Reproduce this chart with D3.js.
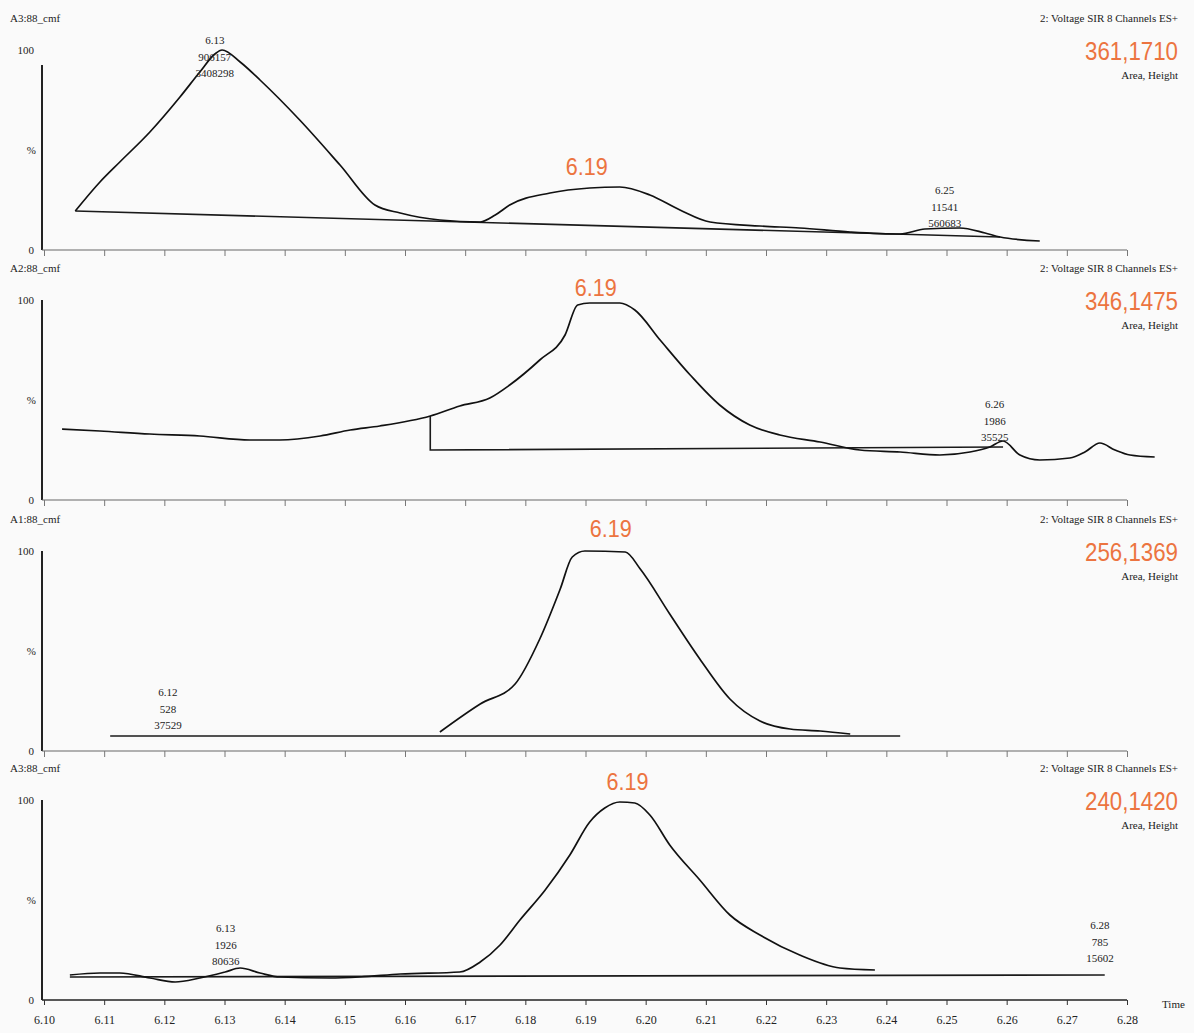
<!DOCTYPE html>
<html>
<head>
<meta charset="utf-8">
<script src="https://cdn.jsdelivr.net/npm/d3@7"></script>
<style>
  html, body { margin: 0; padding: 0; background: #fafafa; }
  svg { display: block; }
  .small { font-family: "Liberation Serif", "DejaVu Serif", serif; font-size: 11px; fill: #222; }
  .tick text { font-family: "Liberation Serif", serif; font-size: 12px; fill: #222; }
</style>
</head>
<body>
<svg id="chart" width="1194" height="1033"></svg>
<script>
// Retention-time axis (minutes)
const timeTicks = [6.10, 6.11, 6.12, 6.13, 6.14, 6.15, 6.16, 6.17, 6.18, 6.19,
                   6.20, 6.21, 6.22, 6.23, 6.24, 6.25, 6.26, 6.27, 6.28];

// Four SIR channels, relative intensity (%) vs time
const sampleNames = ["A3:88_cmf", "A2:88_cmf", "A1:88_cmf", "A3:88_cmf"];
const channelNames = ["2: Voltage SIR 8 Channels ES+", "2: Voltage SIR 8 Channels ES+",
                      "2: Voltage SIR 8 Channels ES+", "2: Voltage SIR 8 Channels ES+"];
const areaHeight = ["361,1710", "346,1475", "256,1369", "240,1420"];

const trace1T = [6.1052, 6.1093, 6.1126, 6.1176, 6.1226, 6.1259, 6.1284, 6.1296, 6.1326, 6.1359,
                 6.1425, 6.1492, 6.1550, 6.1592, 6.1658, 6.1725, 6.1750, 6.1774, 6.1841, 6.1907,
                 6.1957, 6.2007, 6.2057, 6.2107, 6.2190, 6.2256, 6.2340, 6.2423, 6.2464, 6.2522,
                 6.2564, 6.2589, 6.2655];
const trace1V = [19.5, 34, 44, 59, 76.5, 89, 98, 100, 94, 85,
                 65, 42.5, 22.5, 18.5, 15, 14, 17.5, 22.5, 28.5, 31,
                 31.5, 27.5, 20, 14, 12, 11, 9, 8, 10.5, 11,
                 8.5, 6.5, 4.5];

const trace2T = [6.1030, 6.1093, 6.1176, 6.1259, 6.1342, 6.1392, 6.1459, 6.1509, 6.1558, 6.1642,
                 6.1691, 6.1741, 6.1774, 6.1824, 6.1866, 6.1887, 6.1907, 6.1957, 6.1982, 6.2024,
                 6.2074, 6.2123, 6.2173, 6.2223, 6.2290, 6.2356, 6.2423, 6.2489, 6.2539, 6.2572,
                 6.2594, 6.2622, 6.2655, 6.2705, 6.2730, 6.2755, 6.2780, 6.2805, 6.2846];
const trace2V = [35.5, 34.5, 33, 32, 30, 30, 32, 35, 37, 42,
                 47, 51, 57.5, 70, 82.5, 97.5, 98.5, 98.5, 95, 80,
                 62.5, 47.5, 37.5, 32.5, 29, 25, 24, 22.5, 24, 26.5,
                 29.5, 22.5, 20, 21, 24, 28.5, 25, 22.5, 21.5];

const trace3T = [6.1658, 6.1725, 6.1783, 6.1824, 6.1858, 6.1878, 6.1899, 6.1966, 6.1991, 6.2040,
                 6.2090, 6.2140, 6.2190, 6.2240, 6.2290, 6.2340];
const trace3V = [9.5, 23.5, 33.5, 56, 81, 97, 100, 99.5, 91, 68.5,
                 46, 26, 15, 11, 10, 8.5];

const trace4T = [6.1043, 6.1093, 6.1126, 6.1176, 6.1218, 6.1259, 6.1301, 6.1326, 6.1359, 6.1392,
                 6.1475, 6.1525, 6.1592, 6.1691, 6.1725, 6.1758, 6.1791, 6.1833, 6.1874, 6.1907,
                 6.1932, 6.1957, 6.1982, 6.2007, 6.2040, 6.2090, 6.2140, 6.2190, 6.2256, 6.2323,
                 6.2381];
const trace4V = [12.5, 13.5, 13.5, 11, 9, 11, 14, 16, 13.5, 11.5,
                 11, 11.5, 13, 14, 19, 27.5, 40, 55, 72.5, 89,
                 96, 99, 98.5, 92.5, 77.5, 60, 42.5, 32.5, 22.5, 16,
                 15];

// Integration baselines: [time, %] pairs per channel
const baseline1 = [[6.1052, 19.5], [6.2589, 6.5]];
const baseline2 = [[6.1642, 42], [6.1642, 25], [6.2594, 26.5]];
const baseline3 = [[6.1110, 7.5], [6.2423, 7.5]];
const baseline4 = [[6.1043, 11.5], [6.2763, 12.5]];

// Peak annotations: time, %, label lines (RT / height / area)
const peakNotes = [
  { ch: 0, t: 6.1284, v: 103,  lines: ["6.13", "906157", "3408298"] },
  { ch: 0, t: 6.2497, v: 28,   lines: ["6.25", "11541", "560683"] },
  { ch: 1, t: 6.2580, v: 46,   lines: ["6.26", "1986", "35525"] },
  { ch: 2, t: 6.1206, v: 27.5, lines: ["6.12", "528", "37529"] },
  { ch: 3, t: 6.1302, v: 34,   lines: ["6.13", "1926", "80636"] },
  { ch: 3, t: 6.2755, v: 35.5, lines: ["6.28", "785", "15602"] }
];

// Main peak retention time labels
const mainPeakLabel = "6.19";
const mainPeakT = [6.1902, 6.1917, 6.1942, 6.1970];
const mainPeakV = [37.5, 102, 107, 105];

const traces = [
  { t: trace1T, v: trace1V, base: baseline1 },
  { t: trace2T, v: trace2V, base: baseline2 },
  { t: trace3T, v: trace3V, base: baseline3 },
  { t: trace4T, v: trace4V, base: baseline4 }
];

const svg = d3.select("#chart");
const axisX = 42;
const panelZero = [250, 500, 751, 1000];
const panelHeight = 200;

const x = d3.scaleLinear().domain([6.10, 6.28]).range([44, 1127]);
const orange = "#ec7440";

traces.forEach((tr, i) => {
  const y0 = panelZero[i];
  const y = d3.scaleLinear().domain([0, 100]).range([y0, y0 - panelHeight]);
  const g = svg.append("g");

  // y axis line
  g.append("line")
    .attr("x1", axisX).attr("x2", axisX)
    .attr("y1", y(100) + (i === 0 ? 15 : 0)).attr("y2", y(0))
    .attr("stroke", "#222").attr("stroke-width", 2);

  // y axis labels
  g.append("text").attr("class", "small").attr("x", 34).attr("y", y(100) + 4)
    .attr("text-anchor", "end").text("100");
  g.append("text").attr("class", "small").attr("x", 36).attr("y", y(50) + 4)
    .attr("text-anchor", "end").text("%");
  g.append("text").attr("class", "small").attr("x", 34).attr("y", y(0) + 4)
    .attr("text-anchor", "end").text("0");

  // bottom axis
  const xAxis = d3.axisBottom(x).tickValues(timeTicks).tickSize(i === 3 ? 5 : 6)
    .tickFormat(i === 3 ? d3.format(".2f") : () => "");
  const ax = g.append("g").attr("transform", `translate(0,${y0})`).call(xAxis);
  ax.select(".domain").attr("d", `M${axisX},0H${x(6.28)}`)
    .attr("stroke", i === 3 ? "#222" : "#666").attr("stroke-width", i === 3 ? 1.4 : 1.1);
  ax.selectAll(".tick line").attr("stroke", i === 3 ? "#333" : "#777");
  if (i === 3) {
    ax.selectAll(".tick text").attr("dy", "1.3em");
    g.append("text").attr("class", "small").attr("x", 1162).attr("y", y0 + 8).text("Time");
  }

  // sample name (top-left)
  g.append("text").attr("class", "small").attr("x", 10).attr("y", y0 - 228).text(sampleNames[i]);

  // channel description, area/height (top-right)
  g.append("text").attr("class", "small").attr("x", 1178).attr("y", y0 - 228)
    .attr("text-anchor", "end").text(channelNames[i]);
  g.append("text").attr("x", 1178).attr("y", y0 - 190)
    .attr("text-anchor", "end")
    .attr("font-family", "Liberation Sans, Arial, sans-serif").attr("font-size", 26)
    .attr("textLength", 93).attr("lengthAdjust", "spacingAndGlyphs")
    .attr("fill", orange).text(areaHeight[i]);
  g.append("text").attr("class", "small").attr("x", 1178).attr("y", y0 - 171)
    .attr("text-anchor", "end").text("Area, Height");

  // integration baseline
  const line = d3.line().x(d => x(d[0])).y(d => y(d[1]));
  g.append("path").datum(tr.base).attr("d", line)
    .attr("fill", "none").attr("stroke", "#1a1a1a").attr("stroke-width", 1.6);

  // chromatogram trace
  const smooth = d3.line().x(d => x(d[0])).y(d => y(d[1])).curve(d3.curveMonotoneX);
  const pts = tr.t.map((t, k) => [t, tr.v[k]]);
  g.append("path").datum(pts).attr("d", smooth)
    .attr("fill", "none").attr("stroke", "#111").attr("stroke-width", 1.7)
    .attr("stroke-linejoin", "round");

  // peak annotations
  peakNotes.filter(p => p.ch === i).forEach(p => {
    p.lines.forEach((s, k) => {
      g.append("text").attr("class", "small")
        .attr("x", x(p.t)).attr("y", y(p.v) + k * 16.5)
        .attr("text-anchor", "middle").attr("font-size", 10).text(s);
    });
  });

  // main peak label
  g.append("text").attr("x", x(mainPeakT[i])).attr("y", y(mainPeakV[i]))
    .attr("text-anchor", "middle")
    .attr("font-family", "Liberation Sans, Arial, sans-serif").attr("font-size", 23)
    .attr("textLength", 42).attr("lengthAdjust", "spacingAndGlyphs")
    .attr("fill", orange).text(mainPeakLabel);
});
</script>
</body>
</html>
